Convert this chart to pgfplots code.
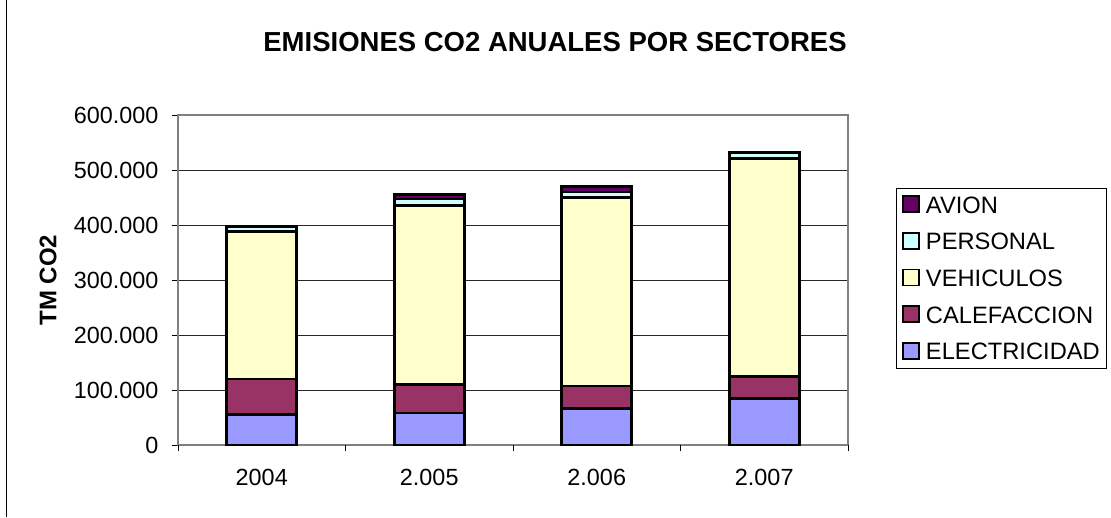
\documentclass[border=0pt]{standalone}
\usepackage{pgfplots}
\pgfplotsset{compat=1.18}
\usepackage{fontspec}
\setmainfont{Liberation Sans}
\definecolor{cElec}{HTML}{9999FF}
\definecolor{cCalef}{HTML}{993366}
\definecolor{cVeh}{HTML}{FFFFCC}
\definecolor{cPers}{HTML}{CCFFFF}
\definecolor{cAvion}{HTML}{660066}
\definecolor{frameGray}{HTML}{808080}
\begin{document}
\begin{tikzpicture}
\useasboundingbox (-178pt,-72pt) rectangle (933pt,445pt);
\draw[black, line width=1pt] (-171pt,-72pt) -- (-171pt,445pt);
\begin{axis}[
  at={(0pt,0pt)}, anchor=south west,
  scale only axis, width=670pt, height=330pt,
  ybar stacked, bar width=70pt,
  xmin=-0.5, xmax=3.5, ymin=0, ymax=600000,
  xtick={0,1,2,3}, xticklabels={2004,2.005,2.006,2.007},
  ytick={0,100000,200000,300000,400000,500000,600000},
  scaled y ticks=false,
  yticklabel={\pgfmathprintnumber[fixed,1000 sep={.},precision=0]{\tick}},
  /pgf/number format/assume math mode=true,
  tick label style={font=\fontsize{23.4}{28}\selectfont, text=black},
  xticklabel style={yshift=-15pt},
  yticklabel style={xshift=-10pt},
  major tick length=6pt,
  x tick style={draw=none},
  y tick style={draw=black, line width=0.8pt},
  tick align=outside, tick pos=left,
  extra x ticks={-0.5,0.5,1.5,2.5,3.5}, extra x tick labels={},
  extra x tick style={x tick style={draw=black, line width=0.8pt}},
  ymajorgrids, grid style={draw=black!85, line width=0.8pt},
  axis line style={draw=frameGray, line width=1.5pt},
  ylabel={TM CO2},
  ylabel style={at={(axis description cs:-0.194,0.5)}, anchor=center, font=\fontsize{24}{28}\selectfont\bfseries},
  barstyle/.style={draw=black, line width=2.6pt, fill=#1},
  legend style={at={(rel axis cs:1.0716,0.779)}, anchor=north west,
    draw=black, line width=0.8pt, inner xsep=4pt, inner ysep=6pt,
    font=\fontsize{23.7}{28}\selectfont, row sep=14.6pt,
    nodes={inner sep=3pt, text height=16pt, text depth=0pt}},
  legend cell align=left,
  reverse legend,
  legend image code/.code={\draw[#1, line width=1.8pt, draw=black] (1pt,-7pt) rectangle (17pt,9pt); \path (0pt,0pt) (20pt,0pt);},
]
\addplot[barstyle=cElec] coordinates {(0,55000) (1,58000) (2,66000) (3,85000)};
\addplot[barstyle=cCalef] coordinates {(0,65000) (1,52000) (2,41000) (3,40000)};
\addplot[barstyle=cVeh] coordinates {(0,268000) (1,325000) (2,343000) (3,396000)};
\addplot[barstyle=cPers] coordinates {(0,9000) (1,12000) (2,10000) (3,11000)};
\addplot[barstyle=cAvion] coordinates {(0,0) (1,8000) (2,10000) (3,1000)};
\legend{ELECTRICIDAD,CALEFACCION,VEHICULOS,PERSONAL,AVION}
\end{axis}
\node[anchor=base, font=\fontsize{27.5}{32}\selectfont\bfseries] at (377pt,393pt) {EMISIONES CO2 ANUALES POR SECTORES};
\end{tikzpicture}
\end{document}
